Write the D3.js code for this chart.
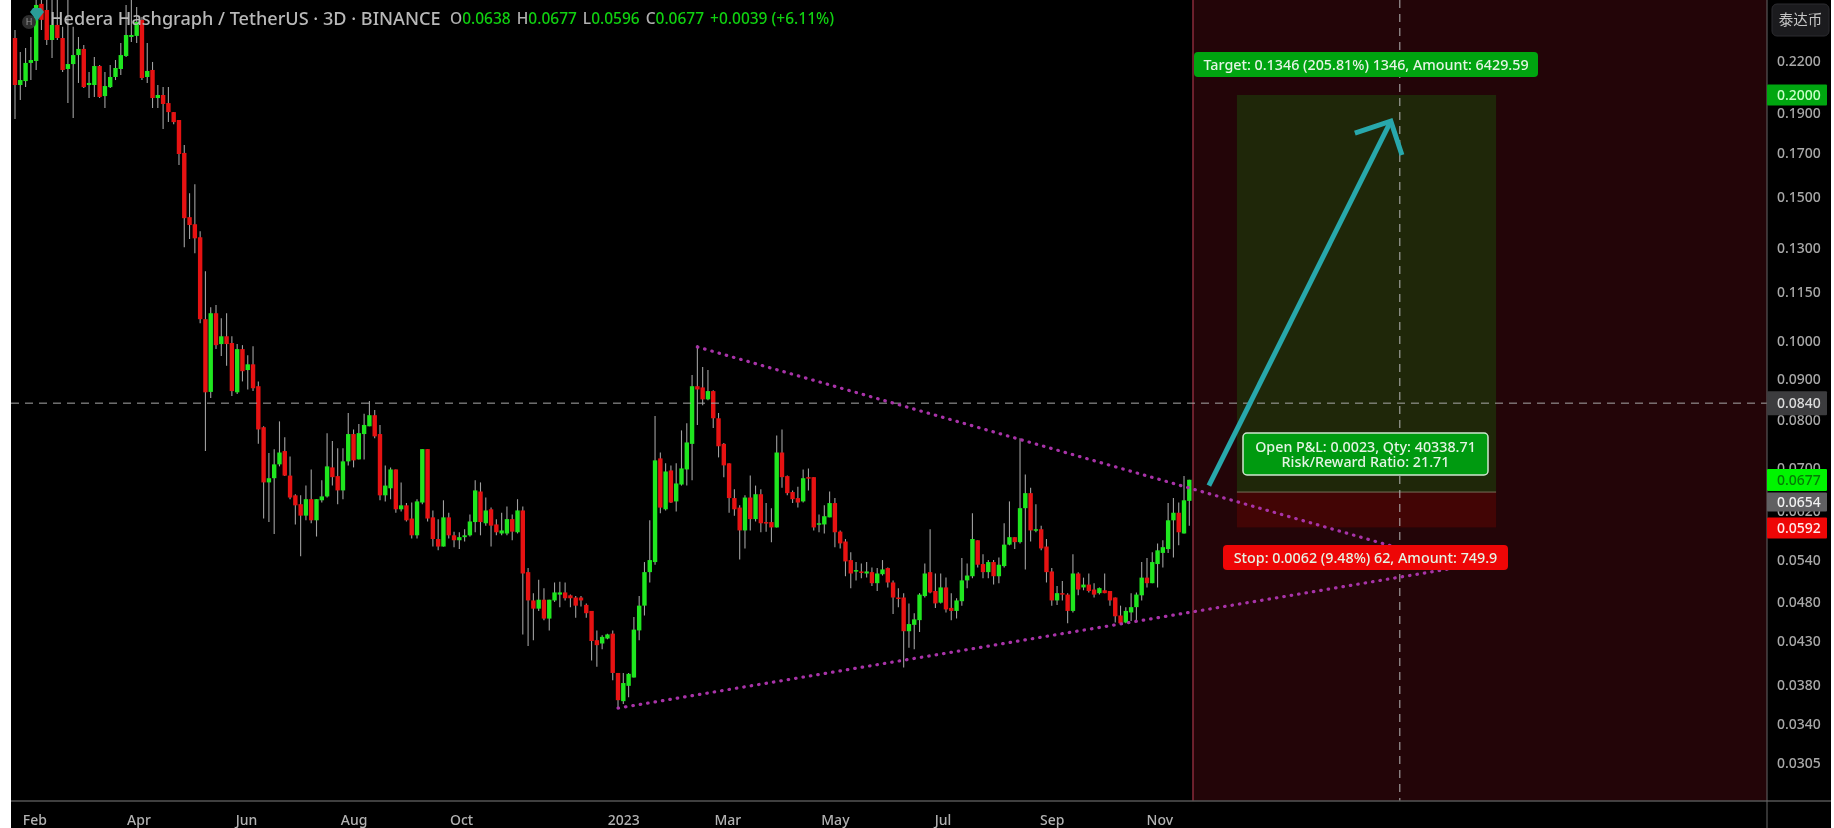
<!DOCTYPE html>
<html>
<head>
<meta charset="utf-8">
<script src="https://cdn.jsdelivr.net/npm/d3@7/dist/d3.min.js"></script>
<style>
  html, body { margin: 0; padding: 0; background: #fff; overflow: hidden; }
  svg { display: block; filter: blur(0.45px); }
  text { font-family: "Noto Sans", sans-serif; }
</style>
</head>
<body>
<svg id="chart" width="1834" height="828"></svg>
<script>
// 3 day candles
var opens = [
  .2348,.2057,.2080,.2189,.2201,.2585,.2541,.2335,.2436,.2348,
  .2152,.2182,.2238,.2277,.2057,.2057,.2170,.1994,.2045,.2104,
  .2152,.2232,.2355,.2362,.2471,.2104,.2146,.1983,.2000,.1955,
  .1906,.1864,.1699,.1418,.1390,.1340,.1064,.0867,.1082,.0992,
  .1014,.0995,.0866,.0978,.0922,.0937,.0881,.0785,.0672,.0680,
  .0707,.0734,.0685,.0648,.0632,.0612,.0641,.0604,.0639,.0646,
  .0701,.0684,.0657,.0713,.0770,.0717,.0770,.0787,.0812,.0770,
  .0648,.0661,.0697,.0623,.0630,.0607,.0579,.0635,.0738,.0609,
  .0573,.0561,.0609,.0579,.0571,.0576,.0579,.0601,.0655,.0599,
  .0623,.0597,.0582,.0582,.0606,.0584,.0621,.0522,.0482,.0471,
  .0483,.0458,.0482,.0490,.0493,.0489,.0486,.0486,.0476,.0468,
  .0431,.0427,.0433,.0439,.0393,.0363,.0379,.0388,.0443,.0475,
  .0522,.0537,.0719,.0623,.0695,.0637,.0668,.0697,.0749,.0881,
  .0878,.0849,.0869,.0805,.0749,.0709,.0643,.0626,.0587,.0644,
  .0606,.0650,.0601,.0601,.0592,.0731,.0684,.0654,.0643,.0637,
  .0682,.0682,.0597,.0597,.0609,.0634,.0585,.0569,.0540,.0523,
  .0523,.0520,.0522,.0506,.0519,.0528,.0507,.0486,.0486,.0442,
  .0450,.0456,.0488,.0522,.0495,.0479,.0500,.0472,.0468,.0481,
  .0510,.0516,.0571,.0534,.0522,.0537,.0516,.0531,.0564,.0576,
  .0568,.0625,.0652,.0587,.0589,.0561,.0523,.0482,.0492,.0490,
  .0468,.0520,.0500,.0504,.0497,.0492,.0496,.0495,.0486,.0462,
  .0453,.0466,.0473,.0489,.0514,.0506,.0534,.0551,.0557,.0604,
  .0617,.0582,.0638
];
var highs = [
  .2402,.2257,.2283,.2355,.2636,.2650,.2636,.2614,.2614,.2423,
  .2614,.2423,.2355,.2302,.2134,.2226,.2176,.2134,.2176,.2207,
  .2315,.2577,.2636,.2562,.2492,.2315,.2195,.2057,.2045,.2045,
  .1906,.1864,.1737,.1517,.1556,.1363,.1218,.1100,.1107,.1067,
  .1082,.1014,.0992,.0989,.0961,.0986,.0893,.0787,.0730,.0738,
  .0798,.0763,.0723,.0650,.0648,.0666,.0697,.0641,.0676,.0772,
  .0755,.0740,.0740,.0817,.0780,.0792,.0815,.0845,.0824,.0790,
  .0705,.0701,.0697,.0672,.0634,.0635,.0641,.0738,.0738,.0621,
  .0606,.0639,.0617,.0585,.0584,.0589,.0614,.0676,.0672,.0644,
  .0626,.0606,.0617,.0628,.0614,.0641,.0628,.0528,.0492,.0511,
  .0499,.0483,.0507,.0508,.0507,.0490,.0488,.0488,.0478,.0468,
  .0443,.0437,.0439,.0443,.0393,.0393,.0393,.0460,.0488,.0537,
  .0604,.0810,.0731,.0709,.0705,.0709,.0778,.0794,.0909,.0989,
  .0930,.0922,.0871,.0817,.0751,.0709,.0659,.0630,.0648,.0685,
  .0666,.0659,.0634,.0625,.0767,.0780,.0685,.0657,.0664,.0697,
  .0699,.0682,.0614,.0630,.0655,.0643,.0587,.0573,.0552,.0537,
  .0535,.0537,.0529,.0528,.0540,.0529,.0510,.0499,.0492,.0478,
  .0465,.0492,.0535,.0589,.0520,.0520,.0514,.0492,.0485,.0543,
  .0535,.0616,.0571,.0549,.0540,.0540,.0544,.0599,.0637,.0576,
  .0761,.0687,.0662,.0632,.0595,.0573,.0528,.0502,.0509,.0492,
  .0549,.0522,.0514,.0520,.0506,.0500,.0520,.0495,.0486,.0475,
  .0473,.0492,.0493,.0537,.0543,.0552,.0566,.0571,.0634,.0643,
  .0635,.0684,.0677
];
var lows = [
  .1869,.1972,.2045,.2086,.2146,.2402,.2302,.2220,.2335,.2134,
  .1955,.1875,.2069,.2040,.1983,.1989,.1983,.1928,.2040,.2086,
  .2116,.2226,.2322,.2315,.2086,.2069,.1928,.1928,.1817,.1853,
  .1842,.1642,.1303,.1333,.1281,.1052,.0734,.0852,.0978,.0959,
  .0933,.0857,.0862,.0893,.0873,.0869,.0749,.0607,.0601,.0581,
  .0703,.0684,.0641,.0597,.0546,.0604,.0599,.0577,.0635,.0644,
  .0666,.0632,.0641,.0705,.0701,.0717,.0717,.0787,.0761,.0639,
  .0637,.0641,.0617,.0619,.0602,.0574,.0574,.0632,.0602,.0561,
  .0555,.0561,.0574,.0560,.0557,.0569,.0577,.0584,.0579,.0595,
  .0561,.0579,.0579,.0579,.0571,.0582,.0438,.0424,.0431,.0468,
  .0456,.0443,.0480,.0473,.0482,.0473,.0459,.0474,.0459,.0407,
  .0400,.0420,.0432,.0385,.0356,.0360,.0367,.0388,.0431,.0462,
  .0507,.0533,.0616,.0621,.0634,.0619,.0666,.0666,.0676,.0790,
  .0835,.0847,.0783,.0721,.0682,.0617,.0612,.0541,.0558,.0587,
  .0602,.0584,.0585,.0568,.0592,.0662,.0648,.0634,.0626,.0635,
  .0657,.0587,.0584,.0582,.0609,.0560,.0558,.0516,.0499,.0510,
  .0513,.0514,.0502,.0495,.0517,.0500,.0464,.0473,.0399,.0422,
  .0420,.0441,.0486,.0492,.0472,.0478,.0466,.0456,.0458,.0475,
  .0499,.0513,.0529,.0513,.0513,.0504,.0506,.0529,.0563,.0557,
  .0566,.0526,.0569,.0584,.0555,.0507,.0475,.0476,.0482,.0452,
  .0466,.0489,.0496,.0493,.0486,.0490,.0492,.0475,.0453,.0451,
  .0452,.0455,.0456,.0482,.0500,.0506,.0500,.0529,.0551,.0544,
  .0563,.0582,.0595
];
var closes = [
  .2057,.2086,.2189,.2207,.2577,.2471,.2335,.2436,.2348,.2146,
  .2182,.2238,.2277,.2045,.2069,.2170,.1989,.2051,.2104,.2158,
  .2238,.2368,.2368,.2457,.2098,.2140,.1983,.2000,.1950,.1906,
  .1853,.1694,.1414,.1387,.1336,.1064,.0866,.1082,.0989,.1014,
  .0992,.0869,.0978,.0919,.0937,.0876,.0780,.0672,.0680,.0707,
  .0731,.0685,.0644,.0630,.0612,.0641,.0604,.0641,.0646,.0703,
  .0682,.0657,.0713,.0770,.0715,.0772,.0790,.0812,.0765,.0648,
  .0666,.0697,.0623,.0630,.0604,.0579,.0637,.0738,.0607,.0573,
  .0561,.0609,.0579,.0571,.0576,.0579,.0602,.0657,.0601,.0621,
  .0595,.0584,.0587,.0606,.0585,.0621,.0520,.0482,.0471,.0483,
  .0458,.0483,.0493,.0493,.0485,.0485,.0475,.0482,.0465,.0430,
  .0425,.0435,.0438,.0393,.0364,.0382,.0392,.0444,.0475,.0522,
  .0540,.0715,.0626,.0693,.0635,.0670,.0699,.0752,.0881,.0873,
  .0849,.0869,.0805,.0744,.0705,.0643,.0623,.0587,.0644,.0606,
  .0650,.0599,.0599,.0592,.0731,.0682,.0652,.0641,.0635,.0680,
  .0680,.0592,.0599,.0611,.0634,.0584,.0566,.0538,.0520,.0525,
  .0522,.0523,.0506,.0520,.0526,.0507,.0486,.0485,.0442,.0451,
  .0457,.0490,.0520,.0493,.0478,.0500,.0470,.0468,.0482,.0510,
  .0517,.0573,.0533,.0522,.0537,.0516,.0533,.0564,.0576,.0568,
  .0625,.0652,.0587,.0589,.0558,.0522,.0482,.0492,.0490,.0468,
  .0520,.0497,.0504,.0495,.0490,.0499,.0492,.0482,.0461,.0452,
  .0468,.0473,.0490,.0514,.0506,.0537,.0555,.0560,.0604,.0617,
  .0584,.0639,.0677
];

var monthDates = ['2022-02-01','2022-04-01','2022-06-01','2022-08-01','2022-10-01','2023-01-01','2023-03-01','2023-05-01','2023-07-01','2023-09-01','2023-11-01'];
var monthLabels = ['Feb','Apr','Jun','Aug','Oct','2023','Mar','May','Jul','Sep','Nov'];
var priceTicks = [.22,.2,.19,.17,.15,.13,.115,.1,.09,.08,.07,.062,.054,.048,.043,.038,.034,.0305];

// position tool
var entryPrice = .0654, targetPrice = .2, stopPrice = .0592, lastPrice = .0677, crossPrice = .084;

// trend lines and arrow, as [bar number, price]
var upperTrendBars = [129, 261], upperTrendPrices = [.0984, .0560];
var lowerTrendBars = [114, 271.3], lowerTrendPrices = [.0356, .0527];
var arrowShaftBars = [225.7, 260.1], arrowShaftPrices = [.0666, .1858];
var arrowHeadBars = [253.3, 260.1, 262.2], arrowHeadPrices = [.1797, .1858, .1689];

var svg = d3.select('#chart'),
    plot = { left: 11, right: 1767, top: 0, bottom: 801, edge: 1831 };

var firstDay = Date.UTC(2022, 0, 21),
    barMs = 3 * 864e5;
function barDate(i) { return new Date(firstDay + i * barMs); }

var x = d3.scaleUtc().domain([barDate(0), barDate(222)]).range([15, 1189.3]),
    y = d3.scaleLog().domain([.2, .0305]).range([95, 763]);

var bars = opens.map(function(o, i) {
  return { i: i, o: o, h: highs[i], l: lows[i], c: closes[i] };
});

// background
svg.append('rect').attr('x', plot.left).attr('y', 0).attr('width', plot.edge - plot.left).attr('height', 828).attr('fill', '#000');

// position tool shading
var boxL = x(barDate(222.7)), boxA = x(barDate(231)), boxB = x(barDate(280));
svg.append('rect').attr('x', boxL).attr('y', plot.top).attr('width', plot.right - boxL).attr('height', plot.bottom).attr('fill', '#230508');
svg.append('line').attr('x1', boxL).attr('x2', boxL).attr('y1', plot.top).attr('y2', plot.bottom).attr('stroke', '#8a2a3a').attr('stroke-width', 1.5);
svg.append('rect').attr('x', boxA).attr('y', y(targetPrice)).attr('width', boxB - boxA).attr('height', y(entryPrice) - y(targetPrice)).attr('fill', '#1f2709');
svg.append('rect').attr('x', boxA).attr('y', y(entryPrice)).attr('width', boxB - boxA).attr('height', y(stopPrice) - y(entryPrice)).attr('fill', '#420505');
svg.append('line').attr('x1', boxA).attr('x2', boxB).attr('y1', y(entryPrice)).attr('y2', y(entryPrice)).attr('stroke', '#77705a').attr('stroke-width', 1);

// candles
var g = svg.append('g');
g.selectAll('.wick').data(bars).enter().append('line')
    .attr('class', 'wick')
    .attr('x1', function(d) { return x(barDate(d.i)); })
    .attr('x2', function(d) { return x(barDate(d.i)); })
    .attr('y1', function(d) { return y(d.h); })
    .attr('y2', function(d) { return y(d.l); })
    .attr('stroke', '#a0a0a0')
    .attr('stroke-width', 1.1);
g.selectAll('.body').data(bars).enter().append('rect')
    .attr('class', 'body')
    .attr('x', function(d) { return x(barDate(d.i)) - 2.2; })
    .attr('width', 4.4)
    .attr('y', function(d) { return y(Math.max(d.o, d.c)); })
    .attr('height', function(d) { return Math.max(1.5, Math.abs(y(d.o) - y(d.c))); })
    .attr('fill', function(d) { return d.c >= d.o ? '#1fe61f' : '#e61212'; });

// crosshair
svg.append('line').attr('x1', plot.left).attr('x2', plot.right).attr('y1', y(crossPrice)).attr('y2', y(crossPrice))
    .attr('stroke', '#a8a8a8').attr('stroke-dasharray', '8 6');
var crossX = x(barDate(261.8));
svg.append('line').attr('x1', crossX).attr('x2', crossX).attr('y1', plot.top).attr('y2', plot.bottom)
    .attr('stroke', '#b8b8b8').attr('stroke-dasharray', '8 6');

// dotted trend lines
function trend(xs, ps) {
  svg.append('path')
      .attr('d', d3.line()(xs.map(function(b, i) { return [x(barDate(b)), y(ps[i])]; })))
      .attr('fill', 'none')
      .attr('stroke', '#a833a8')
      .attr('stroke-width', 3.2)
      .attr('stroke-linecap', 'round')
      .attr('stroke-dasharray', '0.5 7');
}
trend(upperTrendBars, upperTrendPrices);
trend(lowerTrendBars, lowerTrendPrices);

// arrow
function arrowPart(xs, ps) {
  svg.append('path')
      .attr('d', d3.line()(xs.map(function(b, i) { return [x(barDate(b)), y(ps[i])]; })))
      .attr('fill', 'none')
      .attr('stroke', '#28a8ac')
      .attr('stroke-width', 5)
      .attr('stroke-linejoin', 'miter');
}
arrowPart(arrowShaftBars, arrowShaftPrices);
arrowPart(arrowHeadBars, arrowHeadPrices);

// time axis
var xAxis = svg.append('g')
    .attr('transform', 'translate(0,' + plot.bottom + ')')
    .call(d3.axisBottom(x)
      .tickValues(monthDates.map(function(d) { return new Date(d); }))
      .tickSize(0)
      .tickPadding(14)
      .tickFormat(function(d, i) { return monthLabels[i]; }));
xAxis.select('.domain').remove();
xAxis.selectAll('text').attr('fill', '#b2b2b2').style('font-size', '14px').style('font-weight', 500).style('font-family', '"Noto Sans"');
svg.append('line').attr('x1', plot.left).attr('x2', plot.edge).attr('y1', plot.bottom).attr('y2', plot.bottom).attr('stroke', '#555').attr('stroke-width', 1.5);

// price axis
var yAxis = svg.append('g')
    .attr('transform', 'translate(' + plot.right + ',0)')
    .call(d3.axisRight(y)
      .tickValues(priceTicks)
      .tickSize(0)
      .tickPadding(10)
      .tickFormat(d3.format('.4f')));
yAxis.select('.domain').remove();
yAxis.selectAll('text').attr('fill', '#a8a8a8').style('font-size', '14px').style('font-weight', 500).style('font-family', '"Noto Sans"');
svg.append('line').attr('x1', plot.right).attr('x2', plot.right).attr('y1', 0).attr('y2', 828).attr('stroke', '#666').attr('stroke-width', 1);

// price tags on the axis
function tag(value, cy, h, fill, color) {
  svg.append('rect').attr('x', plot.right).attr('y', cy - h / 2).attr('width', 60).attr('height', h).attr('fill', fill).attr('rx', 1);
  svg.append('text').attr('x', plot.right + 10).attr('y', cy).attr('dy', '0.35em')
      .attr('fill', color).style('font-size', '14px').style('font-weight', 500).text(d3.format('.4f')(value));
}
tag(targetPrice, y(targetPrice), 21, '#00a610', '#c8ffc8');
tag(crossPrice, y(crossPrice), 24, '#3c3c3e', '#dcdcdc');
tag(lastPrice, 480, 22, '#00f500', '#067a06');
tag(entryPrice, 502, 19, '#606062', '#f0f0f0');
tag(stopPrice, 528, 21, '#ee0606', '#ffe8e8');

// position labels
function label(x0, y0, w, h, fill, stroke, lines) {
  svg.append('rect').attr('x', x0).attr('y', y0).attr('width', w).attr('height', h).attr('rx', 4)
      .attr('fill', fill).attr('stroke', stroke).attr('stroke-width', stroke === 'none' ? 0 : 1.5);
  lines.forEach(function(t, i) {
    svg.append('text')
        .attr('x', x0 + w / 2)
        .attr('y', y0 + h / 2 + (i - (lines.length - 1) / 2) * 15)
        .attr('dy', '0.35em')
        .attr('text-anchor', 'middle')
        .attr('fill', '#e4f4e4')
        .style('font-size', '14.3px')
        .style('font-weight', 500)
        .text(t);
  });
}
label(1194, 52, 344, 25, '#00a410', 'none', ['Target: 0.1346 (205.81%) 1346, Amount: 6429.59']);
label(1243, 433, 245, 42, '#009a10', '#cfe6cf', ['Open P&L: 0.0023, Qty: 40338.71', 'Risk/Reward Ratio: 21.71']);
label(1223, 545, 285, 25, '#ee0606', 'none', ['Stop: 0.0062 (9.48%) 62, Amount: 749.9']);

// currency button
svg.append('rect').attr('x', 1772).attr('y', 4).attr('width', 57).attr('height', 32).attr('rx', 5).attr('fill', '#1b1b1e').attr('stroke', '#2c2c30');
svg.append('text').attr('x', 1800.5).attr('y', 20).attr('dy', '0.36em').attr('text-anchor', 'middle')
    .attr('fill', '#c4c4c4').style('font-size', '14.5px').style('font-family', '"Noto Sans CJK SC"').text('泰达币');

// header
svg.append('circle').attr('cx', 29).attr('cy', 22).attr('r', 7).attr('fill', '#2e2e2e');
svg.append('text').attr('x', 29).attr('y', 22).attr('dy', '0.35em').attr('text-anchor', 'middle').attr('fill', '#999').style('font-size', '9px').text('H');
svg.append('path').attr('d', 'M30 12 L33 8 L41 8 L44 12 L37 21 Z').attr('fill', '#2a9d97');
svg.append('text').attr('x', 50).attr('y', 19).attr('dy', '0.35em').attr('fill', '#b8b8b8')
    .style('font-size', '18.1px').style('font-weight', 500).text('Hedera Hashgraph / TetherUS · 3D · BINANCE');
var legend = svg.append('text').attr('x', 450).attr('y', 19).attr('dy', '0.35em').style('font-size', '15.5px').style('font-weight', 500);
[['O', '0.0638'], ['H', '0.0677'], ['L', '0.0596'], ['C', '0.0677']].forEach(function(p, i) {
  legend.append('tspan').attr('dx', i ? 6 : 0).attr('fill', '#b0b0b0').text(p[0]);
  legend.append('tspan').attr('fill', '#10d010').text(p[1]);
});
legend.append('tspan').attr('dx', 6).attr('fill', '#10d010').text('+0.0039 (+6.11%)');
</script>
</body>
</html>
